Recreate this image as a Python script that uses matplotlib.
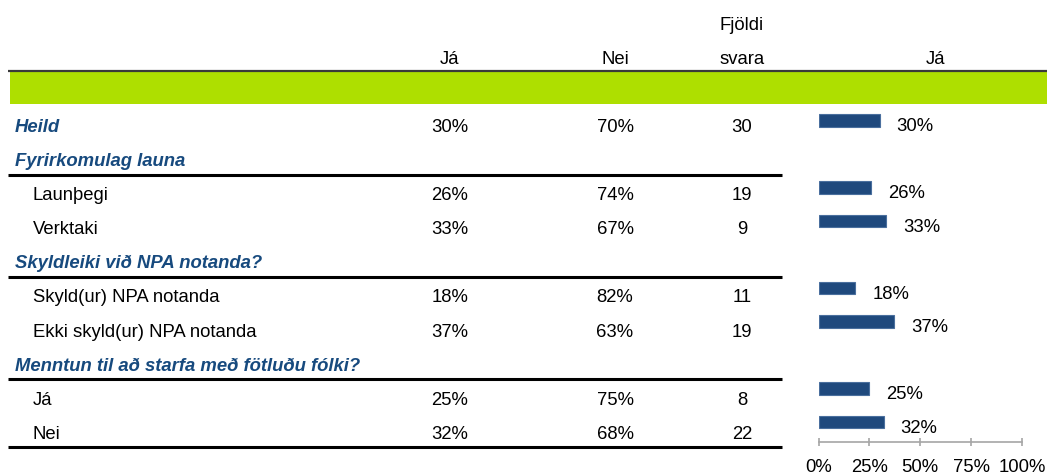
import numpy as np
import matplotlib
matplotlib.use('Agg')
import matplotlib.pyplot as plt

plt.rcParams['font.family'] = ['Liberation Sans', 'DejaVu Sans']

# gogn ur toflunni
row_labels = ['Heild', 'Fyrirkomulag launa', 'Launþegi', 'Verktaki',
              'Skyldleiki við NPA notanda?', 'Skyld(ur) NPA notanda',
              'Ekki skyld(ur) NPA notanda',
              'Menntun til að starfa með fötluðu fólki?', 'Já', 'Nei']
is_header = [True, True, False, False, True, False, False, True, False, False]
ja_pct = [30, None, 26, 33, None, 18, 37, None, 25, 32]
nei_pct = [70, None, 74, 67, None, 82, 63, None, 75, 68]
fjoldi = [30, None, 19, 9, None, 11, 19, None, 8, 22]
col_headers = ['Já', 'Nei', 'Fjöldi\nsvara', 'Já']
x_ticks = [0, 25, 50, 75, 100]

blue_txt = '#174A7E'
bar_col = '#1F497D'
green = '#AEDF00'

fig = plt.figure(figsize=(10.47, 4.77), dpi=100)

# tafla i pixla-hnitum
ax = fig.add_axes([0, 0, 1, 1])
ax.set_xlim(0, 1047)
ax.set_ylim(477, 0)
ax.axis('off')

fs = 13.3
col_x = [450, 615, 742, 935]
ax.text(col_x[0], 64, col_headers[0], ha='center', va='baseline', fontsize=fs)
ax.text(col_x[1], 64, col_headers[1], ha='center', va='baseline', fontsize=fs)
ax.text(col_x[2], 30, col_headers[2].split('\n')[0], ha='center', va='baseline', fontsize=fs)
ax.text(col_x[2], 64, col_headers[2].split('\n')[1], ha='center', va='baseline', fontsize=fs)
ax.text(col_x[3], 64, col_headers[3], ha='center', va='baseline', fontsize=fs)

ax.plot([8, 1047], [72, 72], color='#3a3a3a', lw=1.6, solid_capstyle='butt')
ax.add_patch(plt.Rectangle((10, 73), 1037, 32, color=green, lw=0))

for i, lab in enumerate(row_labels):
    base = 132 + 34.1 * i
    if is_header[i]:
        ax.text(15, base, lab, ha='left', va='baseline', fontsize=fs,
                fontweight='bold', fontstyle='italic', color=blue_txt)
    else:
        ax.text(33, base, lab, ha='left', va='baseline', fontsize=fs)
    if ja_pct[i] is not None:
        ax.text(col_x[0], base, f'{ja_pct[i]}%', ha='center', va='baseline', fontsize=fs)
        ax.text(col_x[1], base, f'{nei_pct[i]}%', ha='center', va='baseline', fontsize=fs)
        ax.text(col_x[2], base, f'{fjoldi[i]}', ha='center', va='baseline', fontsize=fs)

# linur undir yfirfyrirsognum og nedst
for i in [1, 4, 7, 9]:
    y = 132 + 34.1 * i + 9.5
    ax.plot([8, 782], [y, y], color='black', lw=2.2, solid_capstyle='butt')

# sulurit
rows = np.arange(len(row_labels))
bx = fig.add_axes([818.5 / 1047, (477 - 443) / 477, 203.5 / 1047, (443 - 105) / 477])
bx.patch.set_alpha(0)
bar_rows = [r for r in rows if ja_pct[r] is not None]
bar_vals = [ja_pct[r] for r in bar_rows]
bx.barh(bar_rows, bar_vals, height=0.37, color=bar_col, edgecolor='#4a6f9e', lw=0.8)
for r, v in zip(bar_rows, bar_vals):
    bx.text(v + 8.4, r + 0.3, f'{v}%', ha='left', va='baseline', fontsize=fs)
bx.set_xlim(0, 100)
bx.set_ylim(9.6, -0.49)
for s in ['left', 'right', 'top']:
    bx.spines[s].set_visible(False)
bx.spines['bottom'].set_color('#a6a6a6')
bx.spines['bottom'].set_linewidth(1.2)
bx.set_yticks([])
bx.set_xticks(x_ticks)
bx.set_xticklabels([f'{t}%' for t in x_ticks])
bx.tick_params(axis='x', direction='inout', length=6, width=1.2, color='#a6a6a6',
               labelsize=fs, pad=8.5)

fig.savefig('out.png', dpi=100)
